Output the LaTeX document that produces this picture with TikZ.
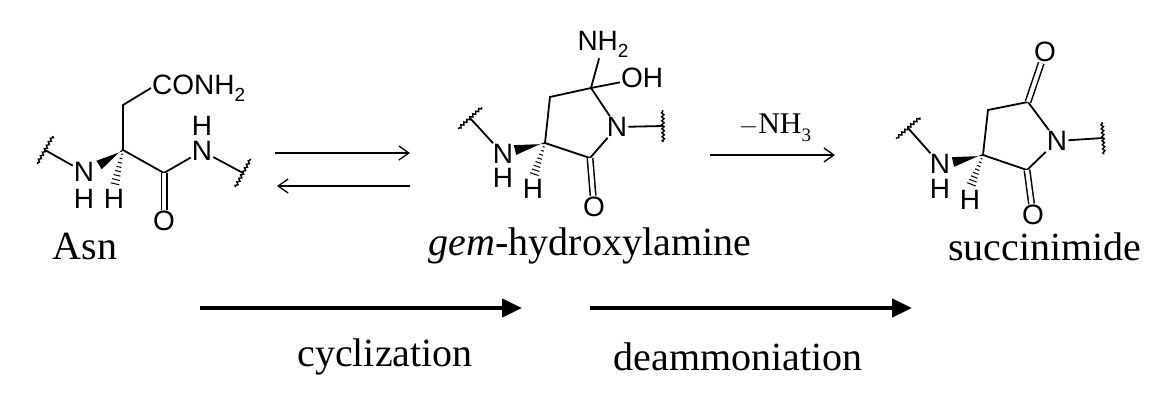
\documentclass[tikz,border=0pt]{standalone}
\usepackage{fontspec}
\setmainfont{Liberation Serif}
\newfontfamily\atomfont{Liberation Sans}
\usetikzlibrary{calc,arrows.meta,decorations.pathmorphing}
\tikzset{
  atom/.style  = {inner sep=1pt, font=\atomfont\fontsize{28}{28}\selectfont},
  bond/.style  = {line width=1.8pt},
  dbond/.style = {line width=1.5pt, double, double distance=4pt},
  wavy/.style  = {line width=1.4pt, decorate,
                  decoration={snake, amplitude=1.2pt, segment length=4pt}},
  caption/.style = {font=\fontsize{40}{40}\selectfont},
  eqarrow/.style = {line width=1.3pt, -{Straight Barb[length=10pt,width=14pt]}},
  bigarrow/.style = {line width=4.5pt, -{Triangle[length=20pt,width=18pt]}}
}
\newcommand{\lowsub}[1]{\raisebox{-0.25em}{\fontsize{19}{19}\selectfont #1}}
% wedge from stereocentre #1 to #2
\newcommand{\wedgebond}[2]{\fill ($(#1)!1pt!90:(#2)$) -- ($(#2)!5pt!90:(#1)$)
   -- ($(#2)!5pt!-90:(#1)$) -- ($(#1)!1pt!-90:(#2)$) -- cycle;}
% hashed bond from stereocentre #1 to #2
\newcommand{\hashbond}[2]{\foreach \t in {1,...,8}
   {\draw[line width=1pt] ($(#1)!\t/9!(#2)!{0.5pt+\t*0.5pt}!90:(#2)$)
      -- ($(#1)!\t/9!(#2)!{0.5pt+\t*0.5pt}!-90:(#2)$);}}
% wavy cut across end #2 of bond from #1
\newcommand{\cutbond}[2]{\draw[wavy] ($(#2)!16pt!90:(#1)$) -- ($(#2)!16pt!-90:(#1)$);}
\begin{document}
\begin{tikzpicture}[x=1pt,y=-1pt]
\useasboundingbox (0,0) rectangle (1165,402);

%% Asn
\coordinate (a-cut1) at (45,150);
\node[atom] (a-n1) at (84,172) {N};
\node[atom] (a-h1) at (84,199) {H};
\coordinate (a-ca) at (123,150);
\coordinate (a-cw) at (99,165);
\coordinate (a-ch) at (114,188);
\node[atom] (a-h2) at (114,199) {H};
\coordinate (a-cb) at (123,105);
\node[atom,anchor=west] (a-side) at (151,88) {CONH\lowsub{2}};
\coordinate (a-co) at (164,173);
\node[atom] (a-o) at (164,221) {O};
\node[atom] (a-n2) at (202,151) {N};
\node[atom] (a-h3) at (202,126) {H};
\coordinate (a-cut2) at (243,173);
\draw[bond] (a-cut1) -- (a-n1);
\cutbond{a-n1}{a-cut1}
\wedgebond{a-ca}{a-cw}
\hashbond{a-ca}{a-ch}
\draw[bond] (a-ca) -- (a-cb) -- (a-side.west);
\draw[bond] (a-ca) -- (a-co) -- (a-n2) -- (a-cut2);
\draw[dbond] (a-co) -- (a-o);
\cutbond{a-n2}{a-cut2}
\node[caption] (asn) at (85,246) {Asn};

%% equilibrium
\coordinate (eq1) at (275,153);
\coordinate (eq2) at (410,153);
\coordinate (eq3) at (410,186);
\coordinate (eq4) at (277,186);
\draw[eqarrow] (eq1) -- (eq2);
\draw[eqarrow] (eq3) -- (eq4);

%% gem-hydroxylamine
\coordinate (g-cut1) at (470,118);
\node[atom] (g-n1) at (503,154) {N};
\node[atom] (g-h1) at (503,178) {H};
\coordinate (g-ca) at (545,143);
\coordinate (g-cw) at (515,150);
\coordinate (g-ch) at (533,178);
\node[atom] (g-h2) at (533,189) {H};
\coordinate (g-cb) at (550,97);
\coordinate (g-cq) at (591,88);
\node[atom] (g-nh2) at (603,44) {NH\lowsub{2}};
\node[atom] (g-oh) at (642,78) {OH};
\node[atom] (g-n2) at (617,127) {N};
\coordinate (g-cut2) at (663,126);
\coordinate (g-co) at (590,158);
\node[atom] (g-o) at (594,207) {O};
\draw[bond] (g-cut1) -- (g-n1);
\cutbond{g-n1}{g-cut1}
\wedgebond{g-ca}{g-cw}
\hashbond{g-ca}{g-ch}
\draw[bond] (g-ca) -- (g-cb) -- (g-cq) -- (g-n2) -- (g-co) -- (g-ca);
\draw[bond] (g-cq) -- (g-nh2);
\draw[bond] (g-cq) -- (g-oh);
\draw[bond] (g-n2) -- (g-cut2);
\cutbond{g-n2}{g-cut2}
\draw[dbond] (g-co) -- (g-o);
\node[caption] (gem) at (590,246) {\textit{gem}-hydroxylamine};

%% loss of ammonia
\coordinate (el1) at (710,155);
\coordinate (el2) at (835,155);
\draw[eqarrow] (el1) -- (el2);
\node[font=\fontsize{30}{30}\selectfont] (nh3) at (775,128) {$-$NH\lowsub{3}};

%% succinimide
\coordinate (s-cut1) at (908,128);
\node[atom] (s-n1) at (940,164) {N};
\node[atom] (s-h1) at (940,189) {H};
\coordinate (s-ca) at (983,155);
\coordinate (s-cw) at (953,162);
\coordinate (s-ch) at (970,188);
\node[atom] (s-h2) at (970,200) {H};
\coordinate (s-cb) at (988,110);
\coordinate (s-c1) at (1028,102);
\node[atom] (s-o1) at (1045,52) {O};
\node[atom] (s-n2) at (1057,141) {N};
\coordinate (s-cut2) at (1103,138);
\coordinate (s-c2) at (1027,170);
\node[atom] (s-o2) at (1033,215) {O};
\draw[bond] (s-cut1) -- (s-n1);
\cutbond{s-n1}{s-cut1}
\wedgebond{s-ca}{s-cw}
\hashbond{s-ca}{s-ch}
\draw[bond] (s-ca) -- (s-cb) -- (s-c1) -- (s-n2) -- (s-c2) -- (s-ca);
\draw[dbond] (s-c1) -- (s-o1);
\draw[dbond] (s-c2) -- (s-o2);
\draw[bond] (s-n2) -- (s-cut2);
\cutbond{s-n2}{s-cut2}
\node[caption] (succ) at (1045,247) {succinimide};

%% steps
\coordinate (st1) at (200,308);
\coordinate (st2) at (522,308);
\coordinate (st3) at (590,308);
\coordinate (st4) at (912,308);
\draw[bigarrow] (st1) -- (st2);
\draw[bigarrow] (st3) -- (st4);
\node[caption] (cyc) at (385,357) {cyclization};
\node[caption] (deam) at (738,357) {deammoniation};
\end{tikzpicture}
\end{document}
